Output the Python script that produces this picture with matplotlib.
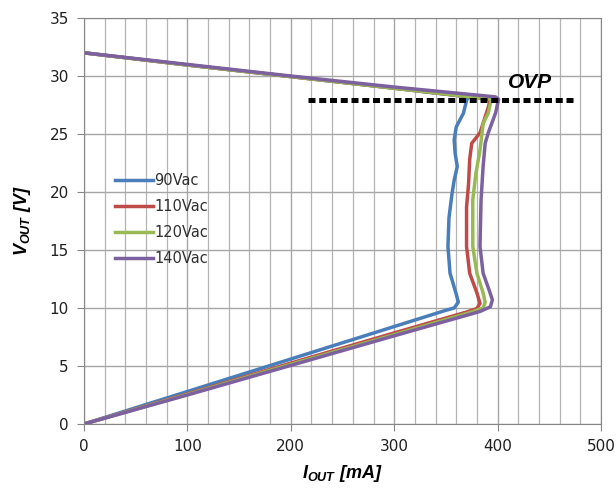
import matplotlib.pyplot as plt
from matplotlib.ticker import MultipleLocator

plt.rcParams['mathtext.fontset'] = 'custom'
plt.rcParams['mathtext.it'] = 'Liberation Sans:italic:bold'
plt.rcParams['mathtext.rm'] = 'Liberation Sans:italic:bold'

# I_OUT [mA] / V_OUT [V] traces
labels = ['90Vac', '110Vac', '120Vac', '140Vac']
colors = ['#4a7ebb', '#be4b48', '#98b954', '#7d60a0']

i_90 = [0, 100, 200, 300, 350, 358, 362, 360, 354, 352, 353, 356, 358, 361, 359, 358,
        360, 367, 370, 372, 300, 200, 100, 0]
v_90 = [0, 2.8, 5.6, 8.4, 9.8, 10.0, 10.5, 11.2, 13.0, 15.3, 17.8, 19.9, 21.0, 22.2, 23.3, 24.5,
        25.6, 26.8, 27.9, 28.2, 28.95, 29.95, 30.95, 32.0]

i_110 = [0, 100, 200, 300, 370, 380, 383, 380, 373, 370, 370, 372, 373, 375, 383, 387,
         391, 393, 300, 200, 100, 0]
v_110 = [0, 2.6, 5.25, 7.85, 9.65, 9.95, 10.4, 11.3, 13.0, 15.3, 18.7, 20.8, 22.8, 24.2, 25.1, 26.2,
         27.3, 28.0, 28.95, 29.95, 30.95, 32.0]

i_120 = [0, 100, 200, 300, 375, 386, 388, 386, 380, 376, 376, 379, 383, 386, 391, 394,
         300, 200, 100, 0]
v_120 = [0, 2.55, 5.15, 7.7, 9.65, 10.0, 10.5, 11.3, 13.0, 15.3, 19.3, 21.6, 23.6, 25.9, 26.8, 28.0,
         28.95, 29.95, 30.95, 32.0]

i_140 = [0, 100, 200, 300, 383, 393, 395, 392, 386, 383, 384, 386, 388, 391, 398, 401,
         398, 300, 200, 100, 0]
v_140 = [0, 2.5, 5.05, 7.6, 9.7, 10.1, 10.7, 11.5, 13.0, 15.3, 19.3, 22.2, 24.2, 25.1, 26.8, 28.0,
         28.2, 29.05, 30.0, 31.0, 32.0]

ovp_i = [217, 473]
ovp_v = [27.9, 27.9]

fig = plt.figure(figsize=(6.16, 4.91), dpi=100)
ax = fig.add_axes([0.1364, 0.1365, 0.8392, 0.8268])

for ii, vv, lab, col in zip([i_90, i_110, i_120, i_140], [v_90, v_110, v_120, v_140],
                            labels, colors):
    ax.plot(ii, vv, color=col, lw=2.5, label=lab, solid_joinstyle='round')

ax.plot(ovp_i, ovp_v, color='black', lw=3.6, linestyle=(0, (1.4, 0.75)),
        dash_capstyle='butt')
ax.text(431, 29.45, 'OVP', fontsize=15, fontweight='bold', fontstyle='italic',
        family='Liberation Sans', ha='center', va='center')

ax.set_xlim(0, 500)
ax.set_ylim(0, 35)
ax.xaxis.set_major_locator(MultipleLocator(100))
ax.xaxis.set_minor_locator(MultipleLocator(20))
ax.yaxis.set_major_locator(MultipleLocator(5))
ax.grid(True, which='major', color='#a6a6a6', lw=1)
ax.grid(True, which='minor', axis='x', color='#b4b4b4', lw=0.9)
ax.set_axisbelow(True)
for s in ax.spines.values():
    s.set_color('#868686')
ax.tick_params(which='major', direction='out', length=5, color='#868686',
               labelsize=11, labelcolor='#202020', pad=6)
ax.tick_params(which='minor', length=0)

ax.set_xlabel(r'$I_{OUT}$ [mA]', fontsize=13, fontweight='bold', fontstyle='italic',
              family='Liberation Sans', labelpad=6)
ax.set_ylabel(r'$V_{OUT}$ [V]', fontsize=13, fontweight='bold', fontstyle='italic',
              family='Liberation Sans', labelpad=12)

ax.legend(loc='upper left', bbox_to_anchor=(0.035, 0.65), frameon=False,
          fontsize=10.5, handlelength=2.6, handletextpad=0.1, labelspacing=0.75,
          labelcolor='#303030')

fig.savefig('out.png', dpi=100)
